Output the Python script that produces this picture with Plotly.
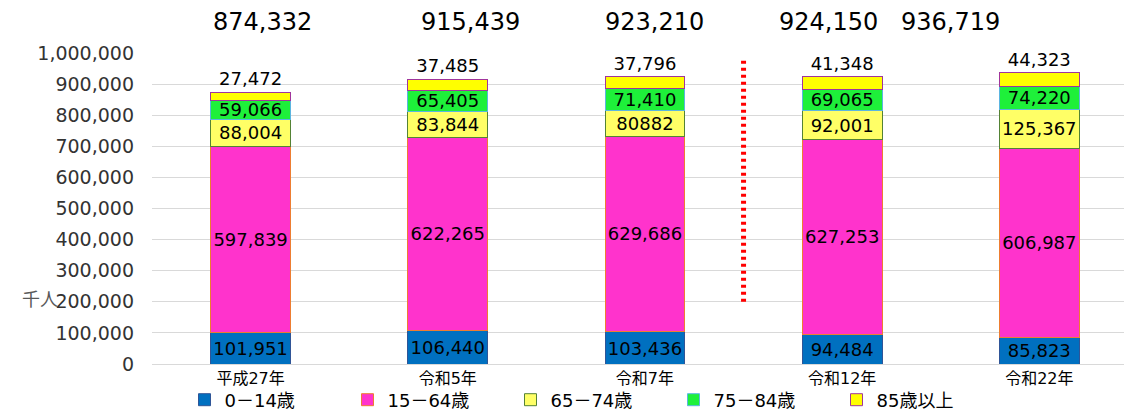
import plotly.graph_objects as go

categories = ["平成27年", "令和5年", "令和7年", "令和12年", "令和22年"]
series_names = ["0－14歳", "15－64歳", "65－74歳", "75－84歳", "85歳以上"]
age_0_14 = [101951, 106440, 103436, 94484, 85823]
age_15_64 = [597839, 622265, 629686, 627253, 606987]
age_65_74 = [88004, 83844, 80882, 92001, 125367]
age_75_84 = [59066, 65405, 71410, 69065, 74220]
age_85_plus = [27472, 37485, 37796, 41348, 44323]
labels_65_74 = ["88,004", "83,844", "80882", "92,001", "125,367"]
totals = [874332, 915439, 923210, 924150, 936719]
y_ticks = [0, 100000, 200000, 300000, 400000, 500000, 600000, 700000, 800000, 900000, 1000000]

FONT = "Noto Sans CJK JP"
NUMFONT = "DejaVu Sans"
MIXFONT = "DejaVu Sans, Noto Sans CJK JP"
xs = list(range(len(categories)))

series = [
    (age_0_14, "#0070C0", "#2F5597", [f"{v:,}" for v in age_0_14], "inside", 19),
    (age_15_64, "#FF33CC", "#ED7D31", [f"{v:,}" for v in age_15_64], "inside", 23),
    (age_65_74, "#FFFF66", "#548235", labels_65_74, "inside", 20),
    (age_75_84, "#1EF03A", "#5BB5E0", [f"{v:,}" for v in age_75_84], "inside", 20),
    (age_85_plus, "#FFFF00", "#A0359C", [f"{v:,}" for v in age_85_plus], "outside", 18),
]

fig = go.Figure()
for name, (vals, color, lc, txt, pos, fs) in zip(series_names, series):
    fig.add_trace(go.Bar(
        x=xs, y=vals, name=name, width=0.405,
        marker=dict(color=color, line=dict(color=lc, width=1)),
        text=txt, textposition=pos, insidetextanchor="middle", textangle=0,
        textfont=dict(size=fs, color="#000000", family=NUMFONT),
        outsidetextfont=dict(size=fs, color="#000000", family=NUMFONT),
        constraintext="none", cliponaxis=False,
    ))

xshifts = [12, 23, 10, -14, -89]
for i, (t, xs_) in enumerate(zip(totals, xshifts)):
    fig.add_annotation(x=i, y=1 + 31 / 311, xref="x", yref="paper", text=f"{t:,}",
                       showarrow=False, xshift=xs_, yanchor="middle", borderpad=0,
                       font=dict(size=24, color="#000000", family=NUMFONT))

fig.add_annotation(x=-132 / 980, y=51 / 311, xref="paper", yref="paper", text="千人",
                   showarrow=False, font=dict(size=18, color="#595959", family=FONT))

fig.add_shape(type="line", x0=2.5, x1=2.5, y0=200000, y1=980000, xref="x", yref="y",
              line=dict(color="#FF0000", width=5, dash="3px,4px"))

fig.update_layout(
    width=1124, height=404, barmode="stack",
    margin=dict(l=144, r=0, t=45, b=48, autoexpand=False),
    paper_bgcolor="#FFFFFF", plot_bgcolor="#FFFFFF",
    font=dict(family=FONT, color="#404040"),
    uniformtext=dict(mode="show", minsize=10),
    showlegend=True,
    legend=dict(orientation="h", xref="container", yref="container",
                x=584 / 1124, xanchor="center", y=12 / 404, yanchor="middle",
                traceorder="normal", font=dict(size=18, color="#000000", family=MIXFONT),
                itemwidth=30, entrywidth=118, bgcolor="rgba(0,0,0,0)"),
    xaxis=dict(tickmode="array", tickvals=xs, ticktext=categories, range=[-0.5, 4.47],
               showgrid=False, showline=True, linecolor="#D9D9D9", ticks="",
               automargin=False,
               tickfont=dict(size=16, color="#000000", family=MIXFONT)),
    yaxis=dict(range=[0, 1000000], tickvals=y_ticks, ticktext=[f"{v:,}" for v in y_ticks],
               showgrid=True, gridcolor="#D9D9D9", gridwidth=1, zeroline=False,
               ticks="", ticklabelstandoff=17, automargin=False,
               tickfont=dict(size=19, color="#333333", family=NUMFONT)),
)

fig.write_html("out.html")
